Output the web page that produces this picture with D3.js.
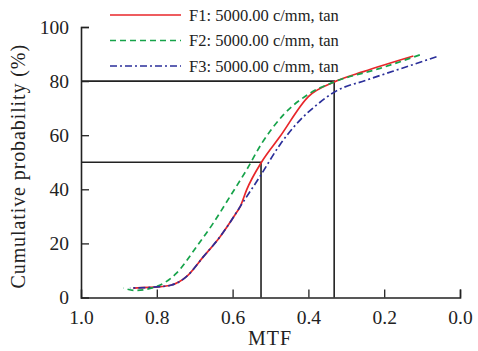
<!DOCTYPE html>
<html lang="en">
<head>
<meta charset="utf-8">
<title>MTF cumulative probability</title>
<style>
  body { margin: 0; background: #fff; }
  text { font-family: "Liberation Serif", "DejaVu Serif", serif; fill: #222; }
</style>
<script src="https://cdn.jsdelivr.net/npm/d3@7"></script>
</head>
<body>
<svg width="478" height="351"></svg>
<script>
// data: [MTF, cumulative probability %]
const f1 = [[0.862, 3.5], [0.79, 4.0], [0.761, 4.6], [0.721, 7.8], [0.677, 15.1], [0.633, 22.5],
            [0.594, 30.5], [0.580, 33.6], [0.563, 39.8], [0.523, 50.2],
            [0.475, 59.5], [0.400, 74.3], [0.330, 79.8], [0.255, 83.5], [0.123, 89.3]];
const f2 = [[0.888, 3.5], [0.858, 2.6], [0.800, 4.1], [0.748, 9.0], [0.695, 18.8], [0.651, 27.5],
            [0.607, 37.3], [0.563, 47.2], [0.523, 57.0], [0.466, 67.5], [0.396, 75.5],
            [0.330, 79.8], [0.211, 84.7], [0.106, 89.7]];
const f3 = [[0.871, 3.5], [0.79, 4.0], [0.761, 4.6], [0.721, 7.8], [0.677, 15.1], [0.633, 22.5],
            [0.594, 30.5], [0.580, 33.6], [0.528, 44.7], [0.475, 56.5], [0.422, 65.6],
            [0.378, 71.2], [0.330, 76.1], [0.246, 80.4], [0.141, 85.3], [0.062, 89.0]];
const seriesNames = ["F1: 5000.00 c/mm, tan", "F2: 5000.00 c/mm, tan", "F3: 5000.00 c/mm, tan"];
const xTicks = [1.0, 0.8, 0.6, 0.4, 0.2, 0.0];
const yTicks = [0, 20, 40, 60, 80, 100];
// guide lines: probability level -> MTF
const guides = [[50, 0.525], [80, 0.332]];

const svg = d3.select("svg");
const x = d3.scaleLinear().domain([1, 0]).range([81, 460]);
const y = d3.scaleLinear().domain([0, 100]).range([297.5, 27]);

const styles = [
  { color: "#e8262a", dash: null },
  { color: "#16a34a", dash: "6,4" },
  { color: "#2b2f9a", dash: "7,3,2,3" }
];

// axes with inward ticks
const xAxis = svg.append("g").attr("transform", `translate(0,${y(0)})`)
  .call(d3.axisBottom(x).tickValues(xTicks).tickSize(-8).tickPadding(13).tickFormat(d3.format(".1f")));
const yAxis = svg.append("g").attr("transform", `translate(${x(1)},0)`)
  .call(d3.axisLeft(y).tickValues(yTicks).tickSize(-8).tickPadding(12));
[xAxis, yAxis].forEach(a => {
  a.select(".domain").attr("stroke", "#222").attr("stroke-width", 1.6);
  a.selectAll(".tick line").attr("stroke", "#222").attr("stroke-width", 1.3);
  a.selectAll(".tick text").style("font-size", "19.5px").attr("fill", "#222");
});
xAxis.selectAll(".tick:first-of-type line").remove();
yAxis.selectAll(".tick:first-of-type line").remove();

// guide lines
guides.forEach(([p, m]) => {
  svg.append("path")
    .attr("d", `M${x(1)},${y(p)}H${x(m)}V${y(0)}`)
    .attr("fill", "none").attr("stroke", "#222").attr("stroke-width", 1.6);
});

// curves
const line = d3.line().x(d => x(d[0])).y(d => y(d[1])).curve(d3.curveMonotoneX);
[f1, f2, f3].forEach((s, i) => {
  svg.append("path").datum(s.slice().sort((a, b) => a[0] - b[0]))
    .attr("d", line)
    .attr("fill", "none")
    .attr("stroke", styles[i].color)
    .attr("stroke-width", 1.7)
    .attr("stroke-dasharray", styles[i].dash);
});

// legend
const leg = svg.append("g");
seriesNames.forEach((n, i) => {
  const ly = 15 + i * 25.5;
  leg.append("line").attr("x1", 110).attr("x2", 181).attr("y1", ly).attr("y2", ly)
    .attr("stroke", styles[i].color).attr("stroke-width", 1.7)
    .attr("stroke-dasharray", styles[i].dash);
  leg.append("text").attr("x", 189).attr("y", ly).attr("dy", "0.35em")
    .style("font-size", "16.5px").text(n);
});

// axis titles
svg.append("text").attr("x", 270).attr("y", 345).attr("text-anchor", "middle")
  .style("font-size", "20px").style("letter-spacing", "1px").text("MTF");
svg.append("text").attr("transform", `translate(25,${(y(0) + y(100)) / 2 + 4}) rotate(-90)`)
  .attr("text-anchor", "middle").style("font-size", "20px").style("letter-spacing", "0.9px")
  .text("Cumulative probability (%)");
</script>
</body>
</html>
